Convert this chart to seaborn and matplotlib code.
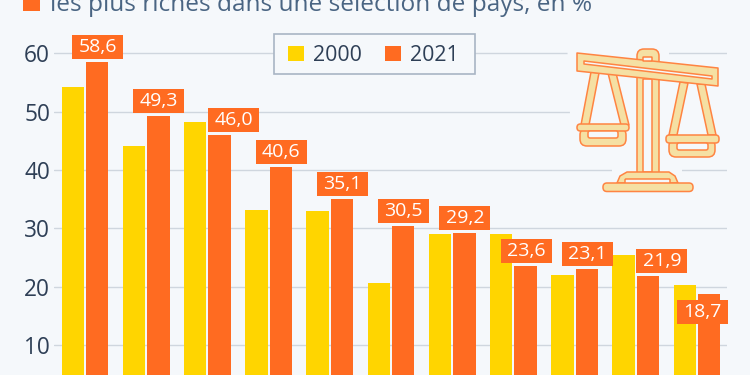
import matplotlib
matplotlib.use("Agg")
import matplotlib.pyplot as plt
from matplotlib.patches import Rectangle, Polygon, FancyBboxPatch
from matplotlib.path import Path
from matplotlib.transforms import Affine2D
import pandas as pd
import seaborn as sns

ranks = list(range(1, 12))
values_2000 = [54.3, 44.2, 48.2, 33.2, 32.9, 20.6, 29.1, 29.0, 22.0, 25.4, 20.3]
values_2021 = [58.6, 49.3, 46.0, 40.6, 35.1, 30.5, 29.2, 23.6, 23.1, 21.9, 18.7]
years = ["2000", "2021"]
y_ticks = [10, 20, 30, 40, 50, 60]
subtitle = "les plus riches dans une sélection de pays, en %"

BG = "#f5f8fb"
YELLOW = "#ffd500"
ORANGE = "#ff6b21"
CREAM = "#f5e0a3"
LINE = "#ff8442"

df = pd.DataFrame({
    "rank": ranks * 2,
    "year": [years[0]] * 11 + [years[1]] * 11,
    "value": values_2000 + values_2021,
})

sns.set_style("white")
plt.rcParams["font.family"] = ["Open Sans", "DejaVu Sans"]

fig = plt.figure(figsize=(7.5, 3.75), dpi=100, facecolor=BG)
# the axes runs past the bottom of the figure, the reference is cropped there
ax = fig.add_axes([54 / 750, -28.5 / 375, 673 / 750, 373.5 / 375])
ax.set_facecolor(BG)

sns.barplot(data=df, x="rank", y="value", hue="year", palette=[YELLOW, ORANGE],
            width=0.794, gap=0.08, saturation=1, linewidth=0, ax=ax, zorder=3)

ax.set_xlim(-0.507, 10.49)
ax.set_ylim(0, 64)
ax.set_yticks(y_ticks)
ax.set_xticks([])
ax.set_xlabel("")
ax.set_ylabel("")
ax.tick_params(axis="y", length=0, pad=2.8, labelsize=16.3, labelcolor="#2e3f56")
ax.yaxis.grid(True, color="#cfd6de", lw=1.0, zorder=0)
ax.xaxis.grid(False)
sns.despine(ax=ax, left=True, bottom=True)


# fixed 51x24 px label box, whatever the size of the text
def label_box(x0, y0, width, height, mutation_size):
    cx = x0 + width / 2
    cy = y0 + height / 2
    return Path.unit_rectangle().transformed(
        Affine2D().translate(-0.5, -0.5).scale(51, 24).translate(cx, cy))


for i, (bar, val) in enumerate(zip(ax.containers[1], values_2021)):
    # labels moved aside where the yellow bar is in the way
    dx = {2: 14, 9: 14, 10: -6.5}.get(i, 0.5)
    # the last label does not fit above its bar
    dy = -15.5 if i == 10 else 17
    ax.annotate(f"{val:.1f}".replace(".", ","),
                (bar.get_x() + bar.get_width() / 2, val),
                xytext=(dx * 0.72, dy * 0.72), textcoords="offset points",
                ha="center", va="center_baseline", color="white", fontsize=14,
                fontweight="medium", zorder=5,
                bbox=dict(boxstyle=label_box, fc=ORANGE, ec="none"))

# legend frame is separate, its padding is wider than it is tall
ax.add_patch(Rectangle((274 / 750, 1 - 74 / 375), 201 / 750, 40 / 375, transform=fig.transFigure,
                       fc=BG, ec="#a9b5c4", lw=1.2, zorder=5.5, clip_on=False))
leg = ax.legend(loc="upper left", bbox_to_anchor=(288 / 750, 1 - 45 / 375),
                bbox_transform=fig.transFigure, ncols=2, frameon=False,
                fontsize=15.4, handlelength=0.75, handleheight=0.75, handletextpad=0.42,
                columnspacing=1.07, borderaxespad=0, borderpad=0,
                labelcolor="#2e3f56", title=None)
leg.set_zorder(6)

# overlay in figure pixels for the header and the scales icon
over = fig.add_axes([0, 0, 1, 1], facecolor="none")
over.set_xlim(0, 750)
over.set_ylim(375, 0)
over.axis("off")

over.add_patch(Rectangle((23, -6), 17, 17, fc=ORANGE, ec="none"))
over.text(50, 11, subtitle, fontsize=17.55, color="#4a6583", va="baseline", ha="left")

# background patch that interrupts the gridlines behind the icon
over.add_patch(Polygon([(567, 40), (669, 40), (669, 56), (735, 70), (735, 130), (682, 168),
                        (682, 178), (612, 178), (612, 168), (570, 115)], fc=BG, ec="none"))


def part(x, y, w, h, fill=CREAM, r=2.0):
    over.add_patch(FancyBboxPatch((x + r, y + r), w - 2 * r, h - 2 * r,
                                  boxstyle=f"round,pad={r}", fc=fill, ec=LINE, lw=1.1))


def poly(points, fill=CREAM):
    over.add_patch(Polygon(points, closed=True, fc=fill, ec=LINE, lw=1.1, joinstyle="round"))


# straps
poly([(591, 72), (599, 73), (589, 125), (581, 125)])
poly([(608, 73), (616, 73), (629, 125), (621, 125)])
poly([(680, 82), (688, 83), (677, 135), (669, 135)])
poly([(697, 84), (705, 84), (716, 135), (708, 135)])
# pans
part(580, 128, 46, 18, r=7)
part(577, 124, 52, 7, r=3.4)
part(588, 131, 30, 7, fill=BG, r=2)
part(669, 139, 46, 18, r=7)
part(666, 135, 53, 8, r=3.4)
part(677, 143, 31, 7, fill=BG, r=2)
# column and base
part(637, 49, 22, 18, r=7)
part(637, 76, 22, 100, r=0.5)
part(643, 79, 9, 93, fill=BG, r=0.5)
poly([(617, 183), (620, 176), (627, 172), (669, 172), (675, 176), (678, 183)])
part(625, 179, 45, 6, fill=BG, r=1)
part(603, 183, 90, 8.5, r=4)
# beam
poly([(577, 53), (718, 68), (718, 86), (577, 71)])
poly([(584, 61), (712, 76), (712, 79), (584, 64)], fill=BG)
part(643, 57, 9, 4, fill=BG, r=0.5)

fig.savefig("out.png", dpi=100, facecolor=BG)
